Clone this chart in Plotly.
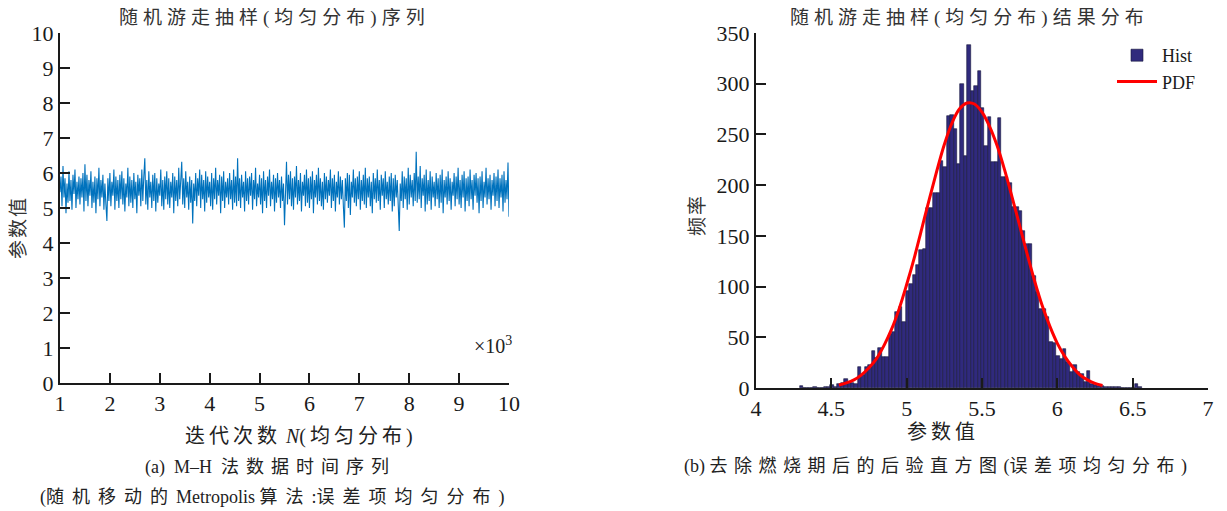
import plotly.graph_objects as go

# ---------------- data: left panel (MCMC trace) ----------------
iter_start = 1000
iter_step = 20
trace_vals = [
    5.45, 5.90, 5.05, 6.20, 5.30, 5.85, 4.85, 5.70, 5.15, 6.05,
    5.20, 5.80, 4.95, 5.95, 5.40, 6.10, 5.00, 5.75, 5.25, 5.90,
    5.10, 5.85, 5.30, 6.00, 4.90, 6.25, 5.20, 5.95, 5.05, 5.80,
    5.35, 6.05, 5.00, 5.75, 5.15, 5.90, 4.85, 5.85, 5.25, 6.15,
    5.05, 5.80, 5.30, 5.95, 4.95, 5.70, 5.10, 4.63, 5.85, 5.20,
    6.00, 5.05, 5.75, 5.35, 6.10, 4.95, 5.90, 5.20, 5.80, 5.00,
    5.95, 5.25, 6.05, 5.10, 5.85, 4.90, 5.70, 5.30, 6.15, 5.05,
    5.90, 5.15, 5.80, 5.00, 6.00, 5.25, 5.75, 4.85, 5.95, 5.35,
    5.85, 5.05, 6.10, 5.20, 5.90, 6.42, 5.10, 5.80, 4.95, 6.05,
    5.30, 5.75, 5.00, 5.95, 5.20, 6.00, 4.90, 5.85, 5.15, 5.70,
    5.35, 6.10, 5.05, 5.80, 4.95, 5.90, 5.25, 6.05, 5.10, 5.85,
    5.00, 5.75, 5.30, 6.00, 4.85, 5.90, 5.20, 5.80, 5.05, 6.15,
    5.25, 5.95, 6.32, 5.10, 5.85, 5.00, 6.05, 5.30, 5.75, 4.95,
    5.90, 5.15, 5.80, 4.56, 5.70, 5.20, 6.00, 5.05, 5.85, 5.35,
    6.10, 5.00, 5.95, 5.25, 5.80, 4.90, 6.05, 5.15, 5.90, 5.30,
    5.75, 5.05, 6.00, 4.95, 5.85, 5.25, 6.15, 5.10, 5.80, 5.35,
    5.95, 4.85, 5.90, 5.20, 6.05, 5.00, 5.75, 5.30, 5.85, 5.10,
    6.00, 5.25, 5.80, 4.95, 6.10, 5.15, 5.90, 5.05, 6.42, 5.20,
    5.85, 5.00, 5.95, 5.30, 5.75, 4.90, 6.05, 5.20, 5.85, 5.10,
    5.90, 5.35, 6.00, 4.95, 5.80, 5.25, 6.15, 5.05, 5.70, 5.30,
    5.95, 5.10, 5.85, 4.85, 6.05, 5.20, 5.80, 5.00, 5.90, 5.35,
    6.10, 5.05, 5.75, 5.25, 5.95, 4.90, 5.85, 5.15, 6.00, 5.30,
    5.80, 5.00, 5.90, 5.20, 5.70, 4.51, 5.85, 6.32, 5.10, 5.95,
    5.25, 6.05, 5.05, 5.85, 4.95, 5.90, 5.30, 6.20, 5.10, 5.80,
    5.20, 6.00, 4.90, 5.75, 5.35, 5.95, 5.05, 6.10, 5.15, 5.85,
    5.00, 5.90, 5.25, 6.05, 4.85, 5.80, 5.30, 5.95, 5.10, 6.15,
    5.20, 5.85, 5.05, 5.75, 4.95, 6.00, 5.25, 5.90, 5.15, 5.80,
    5.35, 6.10, 5.00, 5.85, 5.20, 5.95, 4.90, 5.75, 5.30, 6.05,
    5.10, 5.90, 5.25, 5.80, 5.05, 4.44, 5.85, 5.20, 6.00, 5.00,
    5.95, 4.80, 5.75, 5.30, 6.10, 5.15, 5.85, 5.05, 5.90, 5.25,
    6.05, 4.95, 5.80, 5.20, 5.95, 5.10, 6.15, 5.00, 5.85, 5.30,
    5.90, 5.05, 5.75, 4.85, 6.00, 5.25, 5.85, 5.15, 6.10, 5.20,
    5.80, 4.95, 5.95, 5.35, 5.85, 5.00, 6.05, 5.25, 5.75, 5.10,
    5.90, 5.20, 6.00, 4.90, 5.85, 5.05, 5.95, 5.30, 5.80, 5.15,
    4.34, 5.70, 5.20, 6.05, 5.00, 5.90, 5.25, 5.85, 4.95, 6.15,
    5.10, 5.95, 5.30, 5.80, 5.05, 6.00, 5.20, 6.61, 5.15, 5.90,
    5.25, 6.20, 5.00, 5.85, 5.35, 5.95, 4.90, 6.10, 5.10, 5.80,
    5.20, 6.05, 4.95, 5.90, 5.30, 5.75, 5.05, 6.00, 5.25, 5.85,
    5.00, 5.95, 5.15, 6.10, 4.85, 5.80, 5.30, 5.90, 5.10, 6.05,
    5.20, 5.85, 4.95, 5.75, 5.35, 6.00, 5.05, 5.90, 5.25, 6.15,
    5.10, 5.80, 5.00, 5.95, 5.30, 6.05, 4.90, 5.85, 5.20, 5.90,
    5.05, 6.10, 5.25, 5.80, 4.95, 5.95, 5.35, 6.00, 5.15, 5.85,
    4.85, 5.90, 5.20, 6.05, 5.00, 5.75, 5.30, 6.15, 5.10, 5.85,
    5.25, 5.95, 4.95, 5.80, 5.35, 6.00, 5.05, 5.90, 5.20, 6.10,
    5.00, 5.85, 5.30, 5.95, 4.90, 6.05, 5.15, 5.80, 5.25, 6.30,
    4.75,
]
iterations = [iter_start + iter_step * i for i in range(len(trace_vals))]
left_xticks = [1, 2, 3, 4, 5, 6, 7, 8, 9, 10]
left_yticks = [0, 1, 2, 3, 4, 5, 6, 7, 8, 9, 10]

# ---------------- data: right panel (histogram) ----------------
bin_start = 4.29
bin_width = 0.0227
hist_counts = [
    2, 0, 0, 0, 1, 0, 0, 1, 1, 3,
    1, 4, 5, 9, 6, 5, 4, 21, 13, 21,
    23, 36, 30, 39, 31, 31, 53, 55, 75, 80,
    65, 96, 103, 111, 121, 136, 137, 177, 177, 192,
    192, 224, 218, 268, 269, 255, 221, 300, 229, 338,
    293, 298, 313, 276, 239, 267, 223, 223, 266, 208,
    208, 202, 178, 178, 175, 155, 142, 142, 110, 95,
    78, 78, 70, 45, 44, 32, 29, 38, 26, 16,
    23, 16, 14, 6, 17, 4, 3, 2, 2, 1,
    1, 1, 1, 1, 0, 0, 0, 0, 4, 1,
]
bin_centers = [bin_start + (k + 0.5) * bin_width for k in range(len(hist_counts))]

pdf_x = [4.55, 4.60, 4.65, 4.70, 4.75, 4.80, 4.85, 4.90, 4.95, 5.00,
         5.05, 5.10, 5.15, 5.20, 5.25, 5.30, 5.35, 5.40, 5.45, 5.50,
         5.55, 5.60, 5.65, 5.70, 5.75, 5.80, 5.85, 5.90, 5.95, 6.00,
         6.05, 6.10, 6.15, 6.20, 6.25, 6.30]
pdf_y = [3, 5, 8, 13, 20, 29, 42, 58, 78, 102,
         128, 157, 186, 214, 240, 261, 275, 281, 280, 272,
         258, 239, 215, 188, 160, 132, 105, 81, 61, 44,
         31, 21, 13, 8, 4.5, 2.5]
right_xticks = [4, 4.5, 5, 5.5, 6, 6.5, 7]
right_xticktext = ["4", "4.5", "5", "5.5", "6", "6.5", "7"]
right_yticks = [0, 50, 100, 150, 200, 250, 300, 350]

# ---------------- figure ----------------
# the page body has an 8px margin, so the figure is drawn 8px in from the corner
OFF = 8
W, H = 1227 - OFF, 511 - OFF
SERIF = "Liberation Serif, Noto Sans CJK SC"

def px(x):
    return (x - OFF) / W

def py(y):
    return 1 - (y - OFF) / H

fig = go.Figure()

fig.add_trace(go.Scatter(
    x=[v / 1000 for v in iterations], y=trace_vals, mode="lines",
    line=dict(color="#0072bd", width=1.1), showlegend=False,
    xaxis="x", yaxis="y"))

fig.add_trace(go.Bar(
    x=bin_centers, y=hist_counts, width=bin_width, name="Hist",
    marker=dict(color="#302a7d", line=dict(color="#15153a", width=0.6)),
    xaxis="x2", yaxis="y2"))

fig.add_trace(go.Scatter(
    x=pdf_x, y=pdf_y, mode="lines", name="PDF", line_shape="spline",
    line=dict(color="#ff0000", width=3), xaxis="x2", yaxis="y2"))

axis_common = dict(
    showline=True, linecolor="#1a1a1a", linewidth=2,
    ticks="inside", ticklen=10, tickwidth=2, tickcolor="#1a1a1a",
    showgrid=False, zeroline=False, mirror=False, automargin=False,
    tickfont=dict(family="Liberation Serif", size=22, color="#1a1a1a"),
)

fig.update_layout(
    width=W, height=H,
    margin=dict(l=0, r=0, t=0, b=0, pad=0),
    paper_bgcolor="white", plot_bgcolor="white",
    bargap=0,
    xaxis=dict(domain=[px(60), px(509)], range=[1, 10], tickvals=left_xticks,
               anchor="y", **axis_common),
    yaxis=dict(domain=[py(383), py(33)], range=[0, 10], tickvals=left_yticks,
               anchor="x", **axis_common),
    xaxis2=dict(domain=[px(756), px(1208)], range=[4, 7], tickvals=right_xticks,
                ticktext=right_xticktext, anchor="y2", **axis_common),
    yaxis2=dict(domain=[py(388), py(33)], range=[0, 350], tickvals=right_yticks,
                anchor="x2", **axis_common),
    legend=dict(x=px(1112), y=py(37), xanchor="left", yanchor="top",
                bgcolor="rgba(0,0,0,0)",
                font=dict(family="Liberation Serif", size=18, color="#1a1a1a"),
                tracegroupgap=0, itemwidth=40),
)

def sp(text, spacing):
    return '<span style="letter-spacing:%spx">%s</span>' % (spacing, text)

def ann(text, x, y, size, color="#333333", angle=0):
    fig.add_annotation(text=text, x=px(x), y=py(y), xref="paper", yref="paper",
                       showarrow=False, xanchor="center", yanchor="middle",
                       textangle=angle, font=dict(family=SERIF, size=size, color=color))

NB = "\u00a0"

# left panel texts
ann(sp("随机游走抽样(均匀分布)序列", 5), 274, 18, 19)
ann(sp("参数值", 2), 18, 228, 19, angle=-90)
ann(sp("迭代次数", 4) + " <i>N</i>" + sp("(均匀分布)", 4), 301, 436, 20, color="#222222")
ann("×10<sup>3</sup>", 493, 345, 20, color="#222222")
ann("(a)" + NB + NB + "M–H" + NB + NB + sp("法数据时间序列", 7), 270, 467, 18, color="#222222")
ann("(" + sp("随机移动的", 8) + "Metropolis" + NB + sp("算法", 8) + ":" + sp("误差项均匀分布", 8) + ")",
    272, 497, 18, color="#222222")

# right panel texts
ann(sp("随机游走抽样(均匀分布)结果分布", 5), 969, 18, 19)
ann(sp("频率", 2), 697, 215, 19, angle=-90)
ann(sp("参数值", 4), 943, 432, 20, color="#222222")
ann("(b)" + NB + sp("去除燃烧期后的后验直方图", 6.5) + "(" + sp("误差项均匀分布", 6.5) + ")",
    935, 466, 18, color="#222222")

fig.write_html("out.html")
